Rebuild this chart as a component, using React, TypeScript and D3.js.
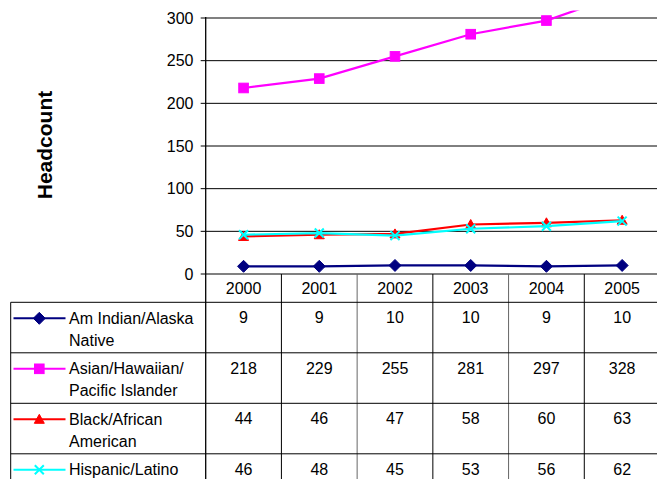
import React from "react";
import * as d3 from "d3";

const years = ["2000", "2001", "2002", "2003", "2004", "2005"];
const seriesNames = [
  ["Am Indian/Alaska", "Native"],
  ["Asian/Hawaiian/", "Pacific Islander"],
  ["Black/African", "American"],
  ["Hispanic/Latino"],
];
const amIndian = [9, 9, 10, 10, 9, 10];
const asian = [218, 229, 255, 281, 297, 328];
const black = [44, 46, 47, 58, 60, 63];
const hispanic = [46, 48, 45, 53, 56, 62];
const colors = ["#000080", "#FF00FF", "#FF0000", "#00FFFF"];
const markers = ["diamond", "square", "triangle", "x"];
const yTicks = [0, 50, 100, 150, 200, 250, 300];
const yLabel = "Headcount";

const W = 657;
const H = 479;
const FONT = "Liberation Sans, Arial, sans-serif";

function Marker({ type, x, y, color }: { type: string; x: number; y: number; color: string }) {
  if (type === "diamond") {
    const s = 6;
    return <path d={`M${x},${y - s}L${x + s},${y}L${x},${y + s}L${x - s},${y}Z`} fill={color} stroke={color} strokeWidth={1} />;
  }
  if (type === "square") {
    const s = 4.8;
    return <rect x={x - s} y={y - s} width={2 * s} height={2 * s} fill={color} stroke={color} strokeWidth={1} />;
  }
  if (type === "triangle") {
    const s = 5;
    return <path d={`M${x},${y - s}L${x + s},${y + s * 0.8}L${x - s},${y + s * 0.8}Z`} fill={color} stroke={color} strokeWidth={1} />;
  }
  const s = 4.5;
  return <path d={`M${x - s},${y - s}L${x + s},${y + s}M${x - s},${y + s}L${x + s},${y - s}`} stroke={color} strokeWidth={2} fill="none" />;
}

export default function App() {
  const allSeries = [amIndian, asian, black, hispanic];
  const plotLeft = 205.7;
  const plotRight = 660;
  const y = d3.scaleLinear().domain([0, 300]).range([274, 18]);
  const x = d3.scaleBand<string>().domain(years).range([plotLeft, plotRight]).padding(0);
  const bw = x.bandwidth();
  const cx = (d: string) => (x(d) as number) + bw / 2;
  const line = d3
    .line<number>()
    .x((_, i) => cx(years[i]))
    .y((d) => y(d));

  const tableLeft = 10.7;
  const headerTop = y(0);
  const headerBottom = 302.3;
  const rowH = 50.5;
  const rowTops = seriesNames.map((_, i) => headerBottom + i * rowH);

  return (
    <svg
      width={W}
      height={H}
      style={{ position: "absolute", left: 0, top: 0, background: "#fff" }}
      fontFamily={FONT}
    >
      <defs>
        <clipPath id="plotClip">
          <rect x={plotLeft} y={10.6} width={W - plotLeft} height={274 - 10.6 + 10} />
        </clipPath>
      </defs>
      <rect x={0} y={0} width={W} height={H} fill="#fff" />

      {yTicks.map((t) => (
        <line
          key={t}
          x1={plotLeft}
          x2={W}
          y1={y(t)}
          y2={y(t)}
          stroke={t === 300 || t === 0 ? "#808080" : "#000"}
          strokeWidth={t === 300 || t === 0 ? 2 : 1}
        />
      ))}
      {yTicks.map((t) => (
        <g key={"t" + t}>
          <line x1={plotLeft - 5} x2={plotLeft} y1={y(t)} y2={y(t)} stroke="#000" />
          <text x={193.5} y={y(t) + 5.5} textAnchor="end" fontSize={16} fill="#000">
            {t}
          </text>
        </g>
      ))}
      <line x1={plotLeft} x2={plotLeft} y1={y(300) - 1} y2={H} stroke="#000" strokeWidth={1.3} />

      <text
        transform={`translate(52,145) rotate(-90)`}
        textAnchor="middle"
        fontSize={21}
        fontWeight="bold"
        fill="#000"
      >
        {yLabel}
      </text>

      {years.map((yr, i) => (
        <g key={yr}>
          {i > 0 && (
            <line x1={x(yr)} x2={x(yr)} y1={headerTop} y2={H} stroke={i % 2 === 0 ? "#666" : "#000"} strokeWidth={1} />
          )}
          <text x={cx(yr)} y={293.5} textAnchor="middle" fontSize={16} fill="#000">
            {yr}
          </text>
        </g>
      ))}
      <line x1={tableLeft} x2={tableLeft} y1={headerBottom} y2={H} stroke="#000" />
      {rowTops.map((rt, i) => (
        <line key={"r" + i} x1={tableLeft} x2={W} y1={rt} y2={rt} stroke="#000" />
      ))}
      {seriesNames.map((names, i) => {
        const rt = rowTops[i];
        const ly = rt + 16;
        return (
          <g key={"s" + i}>
            <line x1={13.5} x2={65.5} y1={ly} y2={ly} stroke={colors[i]} strokeWidth={2} />
            <Marker type={markers[i]} x={39.3} y={ly} color={colors[i]} />
            {names.map((n, j) => (
              <text key={j} x={69} y={rt + 21.5 + j * 21.7} fontSize={16} fill="#000">
                {n}
              </text>
            ))}
            {allSeries[i].map((v, k) => (
              <text key={k} x={cx(years[k])} y={rt + 21} textAnchor="middle" fontSize={16} fill="#000">
                {v}
              </text>
            ))}
          </g>
        );
      })}

      <g clipPath="url(#plotClip)">
        {allSeries.map((s, i) => (
          <g key={"l" + i}>
            <path d={line(s) as string} fill="none" stroke={colors[i]} strokeWidth={2.2} />
            {s.map((v, k) => (
              <Marker key={k} type={markers[i]} x={cx(years[k])} y={y(v)} color={colors[i]} />
            ))}
          </g>
        ))}
      </g>
    </svg>
  );
}
